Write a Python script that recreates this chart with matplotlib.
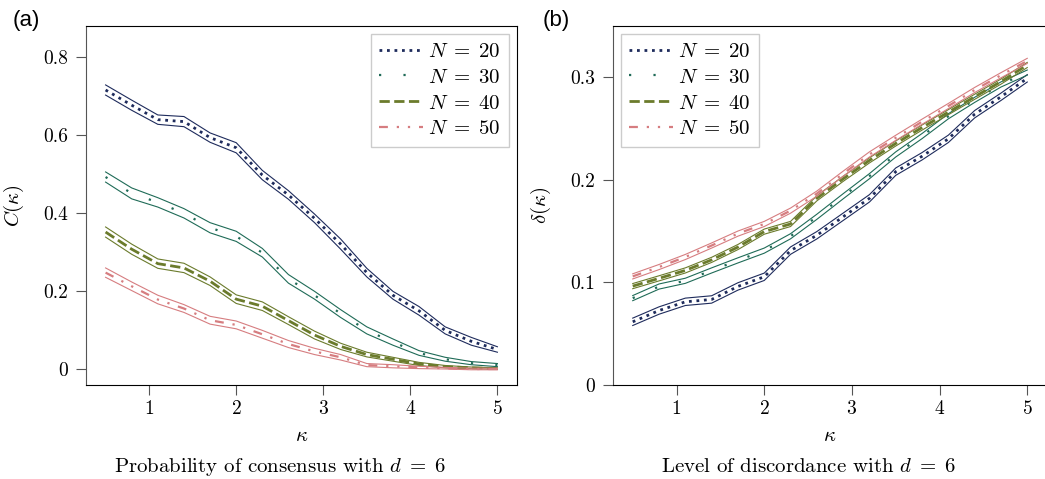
import matplotlib
matplotlib.use("Agg")
from matplotlib import pyplot as plt
import numpy as np

plt.rcParams["font.family"] = "serif"
plt.rcParams["font.serif"] = ["cmr10"]
plt.rcParams["mathtext.fontset"] = "cm"
plt.rcParams["axes.formatter.use_mathtext"] = True

kappa = [0.5, 0.8, 1.1, 1.4, 1.7, 2.0, 2.3, 2.6, 2.9, 3.2, 3.5, 3.8, 4.1, 4.4, 4.7, 5.0]
Ns = [20, 30, 40, 50]

# probability of consensus C(kappa)
C20 = [0.716, 0.677, 0.640, 0.635, 0.594, 0.568, 0.498, 0.447, 0.387, 0.321, 0.248, 0.190, 0.150, 0.100, 0.072, 0.051]
C30 = [0.493, 0.451, 0.428, 0.400, 0.363, 0.341, 0.299, 0.232, 0.190, 0.143, 0.100, 0.070, 0.042, 0.026, 0.016, 0.011]
C40 = [0.352, 0.308, 0.271, 0.260, 0.226, 0.180, 0.162, 0.125, 0.088, 0.059, 0.038, 0.026, 0.014, 0.007, 0.004, 0.002]
C50 = [0.248, 0.213, 0.179, 0.156, 0.126, 0.114, 0.090, 0.065, 0.046, 0.031, 0.011, 0.008, 0.005, 0.003, 0.001, 0.001]
# half width of the bands around C
Ce20 = [0.013, 0.013, 0.012, 0.013, 0.012, 0.013, 0.012, 0.011, 0.011, 0.013, 0.011, 0.010, 0.011, 0.009, 0.010, 0.007]
Ce30 = [0.013, 0.014, 0.012, 0.012, 0.013, 0.013, 0.011, 0.011, 0.010, 0.010, 0.009, 0.008, 0.006, 0.005, 0.004, 0.004]
Ce40 = [0.013, 0.013, 0.012, 0.012, 0.011, 0.011, 0.011, 0.010, 0.010, 0.008, 0.006, 0.005, 0.004, 0.003, 0.002, 0.002]
Ce50 = [0.012, 0.011, 0.011, 0.010, 0.010, 0.010, 0.010, 0.009, 0.008, 0.007, 0.004, 0.004, 0.003, 0.002, 0.002, 0.002]

# level of discordance delta(kappa)
D20 = [0.0616, 0.0726, 0.0811, 0.0834, 0.0961, 0.1055, 0.131, 0.146, 0.164, 0.182, 0.208, 0.223, 0.240, 0.264, 0.281, 0.299]
D30 = [0.0847, 0.0960, 0.1016, 0.1117, 0.1215, 0.131, 0.145, 0.164, 0.184, 0.2036, 0.2248, 0.2427, 0.262, 0.278, 0.293, 0.3046]
D40 = [0.0964, 0.104, 0.1117, 0.122, 0.1345, 0.1495, 0.157, 0.182, 0.201, 0.219, 0.2355, 0.251, 0.266, 0.281, 0.2958, 0.312]
D50 = [0.1059, 0.115, 0.1248, 0.136, 0.1476, 0.157, 0.170, 0.1866, 0.206, 0.2248, 0.241, 0.2567, 0.272, 0.2876, 0.302, 0.316]
De = [0.0036, 0.0025, 0.0025, 0.0025]

colors = ["#1e2b5c", "#1f6b57", "#6b7b2c", "#d67d80"]
styles = [(0, (1, 1.7)), (0, (1, 10)), (0, (3.7, 1.6)), (0, (4, 4, 1, 4, 1, 4))]
widths = [2.0, 1.6, 2.0, 1.6]

W, H = 1045, 479
fig = plt.figure(figsize=(W / 100, H / 100), dpi=100)
axA = fig.add_axes([86 / W, 1 - 385 / H, 431 / W, 359 / H])
axB = fig.add_axes([613 / W, 1 - 385 / H, 434 / W, 359 / H])

def panel(ax, ys, es, ylim, yticks, ylabel, caption, letter, legloc, letter_dx):
    for i, N in enumerate(Ns):
        y = np.array(ys[i]); e = np.array(es[i])
        ax.plot(kappa, y, color=colors[i], linestyle=styles[i], lw=widths[i],
                label=r"$N\;=\;%d$" % N)
        ax.plot(kappa, y + e, color=colors[i], lw=0.8)
        ax.plot(kappa, y - e, color=colors[i], lw=0.8)
    ax.set_xlim(0.275, 5.225)
    ax.set_ylim(*ylim)
    ax.set_xticks([1, 2, 3, 4, 5])
    ax.set_yticks(yticks)
    ax.set_yticklabels(["%g" % t for t in yticks])
    ax.tick_params(direction="out", length=7, labelsize=14, color="#555555")
    ax.tick_params(axis="x", pad=4)
    ax.tick_params(axis="y", pad=6)
    ax.spines["left"].set_color("#555555")
    ax.set_xlabel(r"$\kappa$", fontsize=15, labelpad=6)
    ax.set_ylabel(ylabel, fontsize=15, labelpad=12)
    ax.legend(loc=legloc, fontsize=15, handlelength=2.1, handletextpad=0.25,
              borderpad=0.4, labelspacing=0.35, borderaxespad=0.38, fancybox=False,
              edgecolor="#cccccc", framealpha=1)
    pos = ax.get_position()
    fig.text(pos.x0 + pos.width / 2 - 22 / W, 1 - 467 / H, caption, ha="center", va="center",
             fontsize=15)
    fig.text(pos.x0 - letter_dx / W, 1 - 10 / H, letter, ha="left", va="top",
             fontsize=16, family="Liberation Sans")

panel(axA, [C20, C30, C40, C50], [Ce20, Ce30, Ce40, Ce50], (-0.04, 0.88),
      [0, 0.2, 0.4, 0.6, 0.8], r"$C(\kappa)$",
      r"Probability of consensus with $d\;=\;6$", "(a)", "upper right", 73)
panel(axB, [D20, D30, D40, D50], [[d] * 16 for d in De], (0, 0.35),
      [0, 0.1, 0.2, 0.3], r"$\delta(\kappa)$",
      r"Level of discordance with $d\;=\;6$", "(b)", "upper left", 70)

fig.savefig("out.png", dpi=100)
